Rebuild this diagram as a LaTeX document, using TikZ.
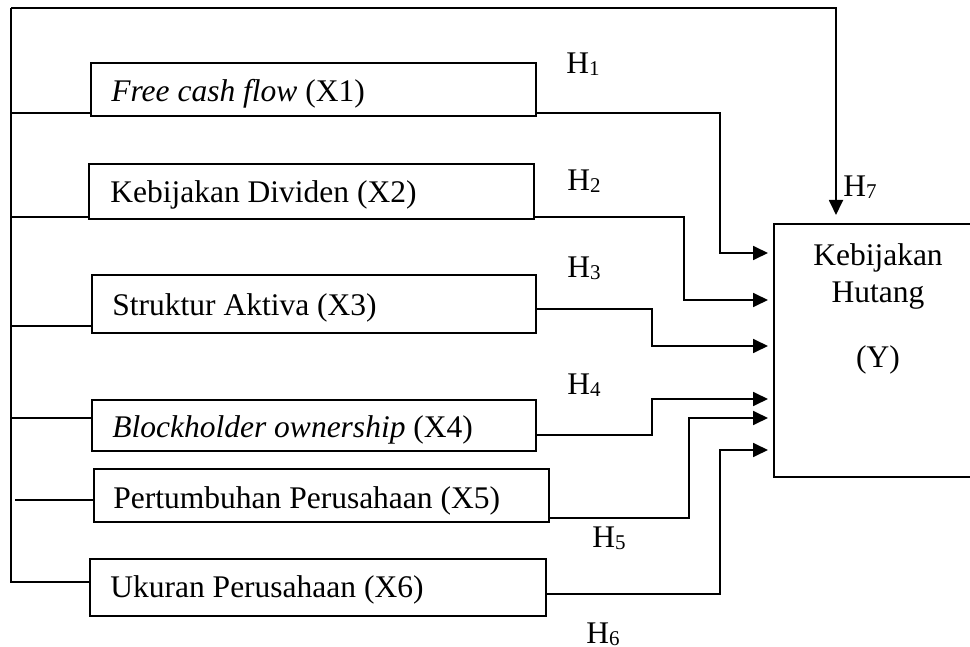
\documentclass[tikz,border=0pt]{standalone}
\usepackage{fontspec}
\setmainfont{Liberation Serif}
\usetikzlibrary{arrows.meta,calc}
\newcommand{\hsub}[1]{H\raisebox{-1pt}{\fontsize{10.5}{10}\selectfont #1}}
\begin{document}
\begin{tikzpicture}[x=0.5pt,y=-0.5pt,
  every node/.style={font=\fontsize{15.75}{18}\selectfont},
  box/.style={draw, line width=0.9pt, inner sep=0pt, anchor=north west},
  txt/.style={inner sep=0pt, anchor=base west},
  ln/.style={line width=0.9pt},
  arr/.style={line width=0.9pt, -{Triangle[length=7.5pt,width=7pt]}, shorten >=3pt}
]
\clip (0,0) rectangle (970,647);
\useasboundingbox (0,0) rectangle (970,647);
\fill[white] (0,0) rectangle (970,647);

% boxes
\node[box, minimum width=222.5pt, minimum height=26.5pt] (x1) at (90,62) {};
\node[box, minimum width=222.5pt, minimum height=27.5pt] (x2) at (88,163) {};
\node[box, minimum width=222pt, minimum height=29pt] (x3) at (91,274) {};
\node[box, minimum width=222pt, minimum height=25.5pt] (x4) at (91,399) {};
\node[box, minimum width=227.5pt, minimum height=26.5pt] (x5) at (93,468) {};
\node[box, minimum width=228pt, minimum height=28.5pt] (x6) at (89,558) {};
\node[inner sep=0pt, anchor=north west, minimum width=103pt, minimum height=126pt] (y) at (774,224) {};
\draw[ln] (y.north east) -- (y.north west) -- (y.south west) -- (y.south east);

% box texts
\node[txt] (t1) at (111,102) {\textit{Free cash flow} (X1)};
\node[txt] (t2) at (110,203) {Kebijakan Dividen (X2)};
\node[txt] (t3) at (112,315) {Struktur Aktiva (X3)};
\node[txt] (t4) at (112,437) {\textit{Blockholder ownership} (X4)};
\node[txt] (t5) at (113,508) {Pertumbuhan Perusahaan (X5)};
\node[txt] (t6) at (110,597) {Ukuran Perusahaan (X6)};
\node[inner sep=0pt, anchor=base] (ty1) at (878,265) {Kebijakan};
\node[inner sep=0pt, anchor=base] (ty2) at (878,302) {Hutang};
\node[inner sep=0pt, anchor=base] (ty3) at (878,367) {(Y)};

% hypothesis labels
\node[txt] (h1) at (566,74) {\hsub{1}};
\node[txt] (h2) at (567,191) {\hsub{2}};
\node[txt] (h3) at (567,278) {\hsub{3}};
\node[txt] (h4) at (567,394) {\hsub{4}};
\node[txt] (h5) at (592,547) {\hsub{5}};
\node[txt] (h6) at (586,643) {\hsub{6}};
\node[txt] (h7) at (843,197) {\hsub{7}};

% left bus
\coordinate (tl) at (11,8);
\coordinate (bl) at (11,582);
\draw[ln] (tl) -- (bl) -- (x6.west |- bl);
\draw[ln] (bl |- 0,113) -- (x1.west |- 0,113);
\draw[ln] (bl |- 0,217) -- (x2.west |- 0,217);
\draw[ln] (bl |- 0,326) -- (x3.west |- 0,326);
\draw[ln] (bl |- 0,418) -- (x4.west |- 0,418);
\coordinate (f5) at (15,500);
\draw[ln] (f5) -- (x5.west |- f5);

% arrows to Y
\draw[arr] (x1.east |- 0,113) -| (720,253) -- (y.west |- 0,253);
\draw[arr] (x2.east |- 0,217) -| (684,300) -- (y.west |- 0,300);
\draw[arr] (x3.east |- 0,309) -| (652,346) -- (y.west |- 0,346);
\draw[arr] (x4.east |- 0,435) -| (652,399) -- (y.west |- 0,399);
\draw[arr] (x5.east |- 0,518) -| (689,418) -- (y.west |- 0,418);
\draw[arr] (x6.east |- 0,594) -| (720,450) -- (y.west |- 0,450);
\draw[ln, -{Triangle[length=7.5pt,width=7pt]}, shorten >=4.5pt] (tl) -- (836,8) -- (y.north -| 836,0);
\end{tikzpicture}
\end{document}
